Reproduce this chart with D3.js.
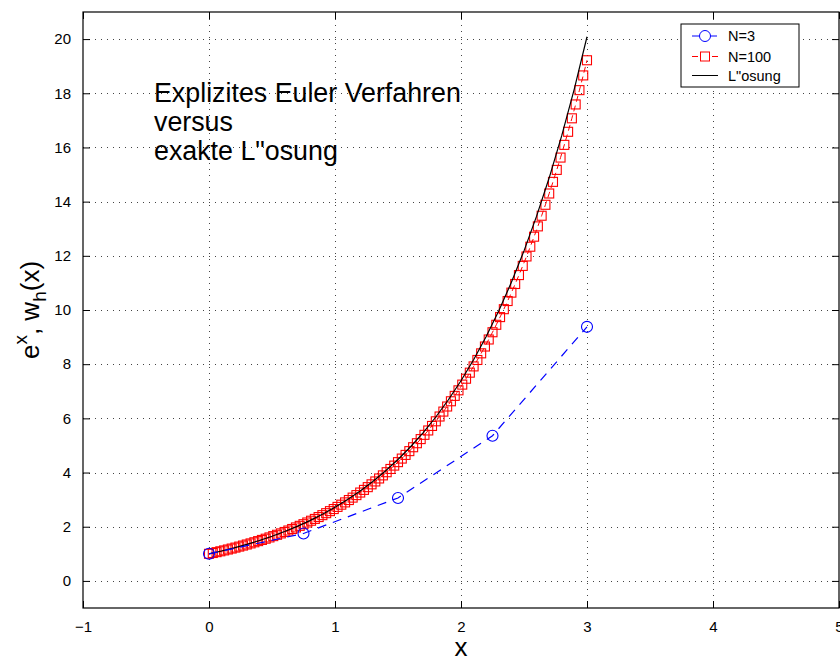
<!DOCTYPE html>
<html>
<head>
<meta charset="utf-8">
<script src="https://cdn.jsdelivr.net/npm/d3@7"></script>
<style>
  html, body { margin: 0; padding: 0; background: #fff; }
  svg { display: block; font-family: "Liberation Sans", Arial, Helvetica, sans-serif; }
</style>
</head>
<body>
<svg id="chart" width="840" height="657"></svg>
<script>
// Explicit Euler, N=3 (step 0.75)
const xN3 = [0, 0.75, 1.5, 2.25, 3];
const yN3 = [1, 1.75, 3.0625, 5.3594, 9.3789];

// Explicit Euler, N=100 (step 0.03)
const xN100 = [0,0.03,0.06,0.09,0.12,0.15,0.18,0.21,0.24,0.27,0.3,0.33,0.36,0.39,0.42,0.45,0.48,0.51,0.54,0.57,
  0.6,0.63,0.66,0.69,0.72,0.75,0.78,0.81,0.84,0.87,0.9,0.93,0.96,0.99,1.02,1.05,1.08,1.11,1.14,1.17,
  1.2,1.23,1.26,1.29,1.32,1.35,1.38,1.41,1.44,1.47,1.5,1.53,1.56,1.59,1.62,1.65,1.68,1.71,1.74,1.77,
  1.8,1.83,1.86,1.89,1.92,1.95,1.98,2.01,2.04,2.07,2.1,2.13,2.16,2.19,2.22,2.25,2.28,2.31,2.34,2.37,
  2.4,2.43,2.46,2.49,2.52,2.55,2.58,2.61,2.64,2.67,2.7,2.73,2.76,2.79,2.82,2.85,2.88,2.91,2.94,2.97,3];
const yN100 = [1,1.03,1.0609,1.0927,1.1255,1.1593,1.1941,1.2299,1.2668,1.3048,1.3439,1.3842,1.4258,1.4685,1.5126,
  1.558,1.6047,1.6528,1.7024,1.7535,1.8061,1.8603,1.9161,1.9736,2.0328,2.0938,2.1566,2.2213,2.2879,2.3566,
  2.4273,2.5001,2.5751,2.6523,2.7319,2.8139,2.8983,2.9852,3.0748,3.167,3.262,3.3599,3.4607,3.5645,3.6715,
  3.7816,3.895,4.0119,4.1323,4.2562,4.3839,4.5154,4.6509,4.7904,4.9341,5.0821,5.2346,5.3917,5.5534,5.72,
  5.8916,6.0684,6.2504,6.4379,6.6311,6.83,7.0349,7.2459,7.4633,7.6872,7.9178,8.1554,8.4,8.652,8.9116,
  9.1789,9.4543,9.7379,10.0301,10.331,10.6409,10.9601,11.2889,11.6276,11.9764,12.3357,12.7058,13.087,
  13.4796,13.8839,14.3005,14.7295,15.1714,15.6265,16.0953,16.5782,17.0755,17.5878,18.1154,18.6589,19.2186];

// Exact solution e^x
const xExact = [0,0.1,0.2,0.3,0.4,0.5,0.6,0.7,0.8,0.9,1,1.1,1.2,1.3,1.4,1.5,1.6,1.7,1.8,1.9,2,
  2.1,2.2,2.3,2.4,2.5,2.6,2.7,2.8,2.9,3];
const yExact = [1,1.105,1.221,1.35,1.492,1.649,1.822,2.014,2.226,2.46,2.718,3.004,3.32,3.669,4.055,
  4.482,4.953,5.474,6.05,6.686,7.389,8.166,9.025,9.974,11.023,12.182,13.464,14.88,16.445,18.174,20.086];

const xTicks = [-1, 0, 1, 2, 3, 4, 5];
const yTicks = [0, 2, 4, 6, 8, 10, 12, 14, 16, 18, 20];
const legendLabels = ['N=3', 'N=100', 'L"osung'];
const noteLines = ['Explizites Euler Verfahren', 'versus', 'exakte L"osung'];

const svg = d3.select('#chart');
const L = 83, R = 839, T = 12, B = 608;

const x = d3.scaleLinear().domain([-1, 5]).range([L, R]);
const y = d3.scaleLinear().domain([-1, 21]).range([B, T]);

// dotted grid
const grid = svg.append('g').attr('stroke', '#444').attr('stroke-width', 1)
  .attr('stroke-dasharray', '1,5').attr('shape-rendering', 'crispEdges');
grid.selectAll('line.vx').data(xTicks.slice(1, -1)).join('line')
  .attr('x1', d => Math.round(x(d)) + 0.5).attr('x2', d => Math.round(x(d)) + 0.5)
  .attr('y1', B).attr('y2', T);
grid.selectAll('line.hy').data(yTicks).join('line')
  .attr('y1', d => Math.round(y(d)) + 0.5).attr('y2', d => Math.round(y(d)) + 0.5)
  .attr('x1', L).attr('x2', R);

// axes with inward ticks on all four sides
const tk = 7;
const fmt = d => d < 0 ? '\u2212' + Math.abs(d) : String(d);
const axB = svg.append('g').attr('transform', `translate(0,${B})`)
  .call(d3.axisBottom(x).tickValues(xTicks).tickSizeInner(-tk).tickSizeOuter(0).tickPadding(13).tickFormat(fmt));
const axT = svg.append('g').attr('transform', `translate(0,${T})`)
  .call(d3.axisTop(x).tickValues(xTicks).tickSizeInner(-tk).tickSizeOuter(0).tickFormat(''));
const axL = svg.append('g').attr('transform', `translate(${L},0)`)
  .call(d3.axisLeft(y).tickValues(yTicks).tickSizeInner(-tk).tickSizeOuter(0).tickPadding(12).tickFormat(fmt));
const axR = svg.append('g').attr('transform', `translate(${R},0)`)
  .call(d3.axisRight(y).tickValues(yTicks).tickSizeInner(-tk).tickSizeOuter(0).tickFormat(''));
[axB, axT, axL, axR].forEach(a => {
  a.select('.domain').remove();
  a.selectAll('.tick line').attr('stroke', '#000');
  a.selectAll('text').attr('font-size', 15).attr('fill', '#000')
    .attr('font-family', '"Liberation Sans", Arial, sans-serif');
});

// frame
svg.append('rect').attr('x', L).attr('y', T).attr('width', R - L).attr('height', B - T)
  .attr('fill', 'none').attr('stroke', '#000').attr('stroke-width', 1.2);

const line = d3.line().x(d => x(d[0])).y(d => y(d[1]));

// N=100: red dashed with squares
const d100 = xN100.map((v, i) => [v, yN100[i]]);
svg.append('path').datum(d100).attr('d', line).attr('fill', 'none')
  .attr('stroke', '#f00').attr('stroke-width', 1).attr('stroke-dasharray', '6,4');
const sq = 9;
svg.append('g').selectAll('rect').data(d100).join('rect')
  .attr('x', d => x(d[0]) - sq / 2).attr('y', d => y(d[1]) - sq / 2)
  .attr('width', sq).attr('height', sq)
  .attr('fill', 'none').attr('stroke', '#f00').attr('stroke-width', 1.1);

// exact solution: solid black
const dEx = xExact.map((v, i) => [v, yExact[i]]);
svg.append('path').datum(dEx).attr('d', line).attr('fill', 'none')
  .attr('stroke', '#000').attr('stroke-width', 1.2);

// N=3: blue dashed with circles
const d3pts = xN3.map((v, i) => [v, yN3[i]]);
svg.append('path').datum(d3pts).attr('d', line).attr('fill', 'none')
  .attr('stroke', '#00f').attr('stroke-width', 1.2).attr('stroke-dasharray', '9,7');
svg.append('g').selectAll('circle').data(d3pts).join('circle')
  .attr('cx', d => x(d[0])).attr('cy', d => y(d[1])).attr('r', 5.5)
  .attr('fill', 'none').attr('stroke', '#00f').attr('stroke-width', 1.1);

// annotation text
svg.append('g').selectAll('text').data(noteLines).join('text')
  .attr('x', 154).attr('y', (d, i) => 102 + i * 29)
  .attr('font-size', 26.8).attr('fill', '#000').text(d => d);

// axis labels
svg.append('text').attr('x', (L + R) / 2).attr('y', 656).attr('text-anchor', 'middle')
  .attr('font-size', 26).attr('fill', '#000').text('x');
const yl = svg.append('text').attr('transform', `translate(39,${(T + B) / 2}) rotate(-90)`)
  .attr('text-anchor', 'middle').attr('font-size', 26).attr('fill', '#000');
yl.append('tspan').text('e');
yl.append('tspan').attr('font-size', 19).attr('dy', -12).text('x');
yl.append('tspan').attr('dy', 12).text(', w');
yl.append('tspan').attr('font-size', 19).attr('dy', 7).text('h');
yl.append('tspan').attr('dy', -7).text('(x)');

// legend
const lg = svg.append('g');
lg.append('rect').attr('x', 681).attr('y', 24).attr('width', 118).attr('height', 63)
  .attr('fill', '#fff').attr('stroke', '#000').attr('stroke-width', 1);
const rows = [36, 56.5, 75.5];
const colors = ['#00f', '#f00', '#000'];
legendLabels.forEach((lab, i) => {
  lg.append('line').attr('x1', 692).attr('x2', 718).attr('y1', rows[i]).attr('y2', rows[i])
    .attr('stroke', colors[i]).attr('stroke-width', 1)
    .attr('stroke-dasharray', i === 2 ? null : (i === 0 ? '9,7' : '6,4'));
  if (i === 0) lg.append('circle').attr('cx', 705).attr('cy', rows[i]).attr('r', 5.5)
    .attr('fill', '#fff').attr('stroke', '#00f');
  if (i === 1) lg.append('rect').attr('x', 705 - sq / 2).attr('y', rows[i] - sq / 2)
    .attr('width', sq).attr('height', sq).attr('fill', '#fff').attr('stroke', '#f00');
  lg.append('text').attr('x', 728).attr('y', rows[i] + 5).attr('font-size', 14.5)
    .attr('fill', '#000').text(lab);
});
</script>
</body>
</html>
